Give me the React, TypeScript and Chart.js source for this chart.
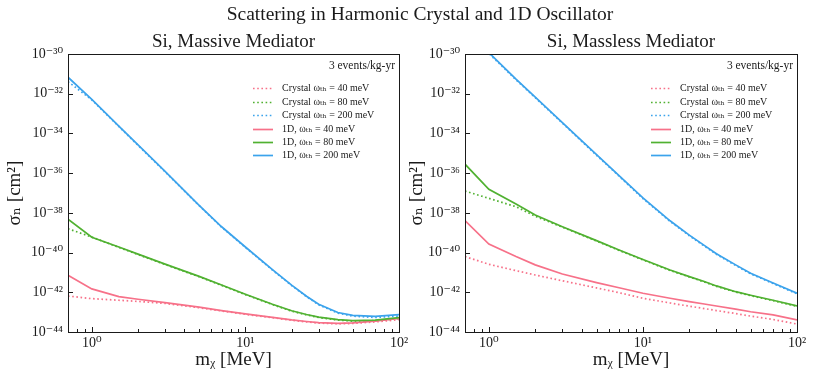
import React, { useEffect, useRef } from "react";
import { Chart, registerables } from "chart.js";
Chart.register(...registerables);

// Dark-matter masses (MeV) at which the curves are sampled
const masses = [0.7, 1, 1.5, 2, 3, 5, 7, 10, 15, 20, 25, 30, 40, 50, 70, 100];

// log10 of sigma_n [cm^2] — massive mediator (left)
const mvCrystal40 = [-42.19, -42.32, -42.40, -42.46, -42.56, -42.78, -42.94, -43.11, -43.28, -43.41, -43.49, -43.55, -43.59, -43.57, -43.49, -43.38];
const mvCrystal80 = [-38.80, -39.22, -39.74, -40.10, -40.60, -41.22, -41.65, -42.12, -42.62, -42.95, -43.14, -43.27, -43.40, -43.45, -43.43, -43.32];
const mvCrystal200 = [-31.39, -32.31, -33.65, -34.60, -35.93, -37.64, -38.72, -39.74, -40.88, -41.66, -42.22, -42.63, -43.05, -43.20, -43.27, -43.20];
const mv1D40 = [-41.14, -41.83, -42.22, -42.35, -42.52, -42.75, -42.92, -43.09, -43.26, -43.39, -43.47, -43.53, -43.57, -43.54, -43.45, -43.32];
const mv1D80 = [-38.32, -39.23, -39.72, -40.08, -40.58, -41.20, -41.63, -42.10, -42.60, -42.93, -43.12, -43.25, -43.38, -43.43, -43.40, -43.28];
const mv1D200 = [-31.17, -32.29, -33.63, -34.58, -35.91, -37.62, -38.70, -39.72, -40.86, -41.64, -42.20, -42.60, -43.02, -43.16, -43.21, -43.12];

// massless mediator (right)
const mlCrystal40 = [-40.20, -40.59, -40.91, -41.13, -41.42, -41.78, -42.02, -42.30, -42.54, -42.70, -42.82, -42.92, -43.07, -43.20, -43.37, -43.60];
const mlCrystal80 = [-36.90, -37.27, -37.69, -38.17, -38.72, -39.42, -39.89, -40.37, -40.90, -41.23, -41.48, -41.70, -41.99, -42.17, -42.42, -42.71];
const mlCrystal200 = [-28.85, -29.97, -31.30, -32.20, -33.48, -35.10, -36.15, -37.28, -38.43, -39.15, -39.67, -40.09, -40.65, -41.07, -41.56, -42.08];
const ml1D40 = [-38.39, -39.57, -40.20, -40.62, -41.08, -41.51, -41.77, -42.05, -42.30, -42.47, -42.59, -42.69, -42.85, -42.98, -43.14, -43.39];
const ml1D80 = [-35.55, -36.81, -37.55, -38.11, -38.70, -39.40, -39.87, -40.35, -40.88, -41.21, -41.46, -41.68, -41.97, -42.15, -42.40, -42.69];
const ml1D200 = [-28.80, -29.93, -31.27, -32.17, -33.45, -35.07, -36.12, -37.25, -38.40, -39.12, -39.64, -40.06, -40.62, -41.04, -41.53, -42.05];

const seriesLabels = [
  "Crystal ωₜₕ = 40 meV",
  "Crystal ωₜₕ = 80 meV",
  "Crystal ωₜₕ = 200 meV",
  "1D, ωₜₕ = 40 meV",
  "1D, ωₜₕ = 80 meV",
  "1D, ωₜₕ = 200 meV",
];
const colors = ["#f77189", "#50b131", "#3ba3ec"];

const yTickExps = [-44, -42, -40, -38, -36, -34, -32, -30];
const xMajorTicks = [1, 10, 100];
const xMinorTicks = [0.8, 0.9, 2, 3, 4, 5, 6, 7, 8, 9, 20, 30, 40, 50, 60, 70, 80, 90];

const figTitle = "Scattering in Harmonic Crystal and 1D Oscillator";
const panelTitles = ["Si, Massive Mediator", "Si, Massless Mediator"];
const noteText = "3 events/kg-yr";
const xTitle = "mᵪ [MeV]";
const yTitle = "σₙ [cm²]";

const FONT = "'Liberation Serif', 'DejaVu Serif', serif";
const INK = "#1a1a1a";

const SUP: Record<string, string> = {
  "-": "⁻", "0": "⁰", "1": "¹", "2": "²", "3": "³", "4": "⁴",
  "5": "⁵", "6": "⁶", "7": "⁷", "8": "⁸", "9": "⁹",
};
const pow10Label = (v: number) =>
  "10" + String(Math.round(Math.log10(v))).split("").map((c) => SUP[c] || c).join("");

const decorPlugin = {
  id: "decor",
  afterDatasetsDraw(chart: any) {
    const { ctx, chartArea: a, scales } = chart;
    const x = scales.x;
    const y = scales.y;
    ctx.save();
    ctx.strokeStyle = INK;
    ctx.lineWidth = 1;
    ctx.setLineDash([]);
    // frame
    ctx.strokeRect(Math.round(a.left) + 0.5, Math.round(a.top) + 0.5,
      Math.round(a.right - a.left), Math.round(a.bottom - a.top));
    // inward ticks
    ctx.beginPath();
    xMajorTicks.forEach((v) => {
      const px = Math.round(x.getPixelForValue(v)) + 0.5;
      ctx.moveTo(px, a.bottom);
      ctx.lineTo(px, a.bottom - 5);
    });
    xMinorTicks.forEach((v) => {
      const px = Math.round(x.getPixelForValue(v)) + 0.5;
      ctx.moveTo(px, a.bottom);
      ctx.lineTo(px, a.bottom - 3);
    });
    yTickExps.forEach((e) => {
      const py = Math.round(y.getPixelForValue(Math.pow(10, e))) + 0.5;
      ctx.moveTo(a.left, py);
      ctx.lineTo(a.left + 5, py);
    });
    ctx.stroke();

    // note + legend inside the axes
    ctx.fillStyle = INK;
    ctx.font = `11.5px ${FONT}`;
    ctx.textAlign = "right";
    ctx.textBaseline = "middle";
    ctx.fillText(noteText, a.right - 4, a.top + 12);

    ctx.font = `10px ${FONT}`;
    ctx.textAlign = "left";
    chart.data.datasets.forEach((ds: any, i: number) => {
      const yy = Math.round(a.top + 34.3 + i * 13.4) + 0.5;
      ctx.strokeStyle = ds.borderColor;
      ctx.lineWidth = 1.7;
      ctx.lineCap = "butt";
      ctx.setLineDash(ds.borderDash || []);
      ctx.beginPath();
      ctx.moveTo(a.right - 146, yy);
      ctx.lineTo(a.right - 126, yy);
      ctx.stroke();
      ctx.setLineDash([]);
      ctx.fillText(ds.label, a.right - 117, yy);
    });
    ctx.restore();
  },
};

function buildConfig(title: string, series: number[][], yWidth: number, padRight: number, yTitlePad: number) {
  const datasets = series.map((vals, i) => {
    const crystal = i < 3;
    return {
      label: seriesLabels[i],
      data: masses.map((m, j) => ({ x: m, y: Math.pow(10, vals[j]) })),
      borderColor: colors[i % 3],
      backgroundColor: colors[i % 3],
      borderWidth: 1.7,
      borderDash: crystal ? [1.6, 2.6] : [],
      borderCapStyle: "butt",
      pointRadius: 0,
      tension: 0,
      fill: false,
      order: 6 - i,
    };
  });
  return {
    type: "line",
    data: { datasets },
    plugins: [decorPlugin],
    options: {
      animation: false,
      responsive: false,
      maintainAspectRatio: false,
      layout: { padding: { left: 0, right: padRight, top: 0, bottom: 0 } },
      plugins: {
        legend: { display: false },
        tooltip: { enabled: false },
        title: {
          display: true,
          text: title,
          fullSize: false,
          color: INK,
          font: { family: FONT, size: 19, weight: "normal", lineHeight: 1.2 },
          padding: { top: 31, bottom: 0.2 },
        },
      },
      scales: {
        x: {
          type: "logarithmic",
          min: 0.7,
          max: 100,
          grid: { display: false, drawTicks: false },
          border: { display: false },
          ticks: {
            autoSkip: false,
            maxRotation: 0,
            minRotation: 0,
            padding: 3,
            color: INK,
            font: { family: FONT, size: 14 },
            callback: (v: number) => pow10Label(v),
          },
          afterBuildTicks: (s: any) => {
            s.ticks = xMajorTicks.map((v) => ({ value: v }));
          },
          afterFit: (s: any) => {
            s.height = 48;
            s.paddingLeft = 0;
            s.paddingRight = 0;
          },
          title: {
            display: true,
            text: xTitle,
            color: INK,
            font: { family: FONT, size: 19, lineHeight: 1.2 },
            padding: { top: 0, bottom: 9 },
          },
        },
        y: {
          type: "logarithmic",
          min: 1e-44,
          max: 1e-30,
          grid: { display: false, drawTicks: false },
          border: { display: false },
          ticks: {
            autoSkip: false,
            padding: 5,
            color: INK,
            font: { family: FONT, size: 14 },
            callback: (v: number) => pow10Label(v),
          },
          afterBuildTicks: (s: any) => {
            s.ticks = yTickExps.map((e) => ({ value: Math.pow(10, e) }));
          },
          afterFit: (s: any) => {
            s.width = yWidth;
            s.paddingTop = 0;
            s.paddingBottom = 0;
          },
          title: {
            display: true,
            text: yTitle,
            color: INK,
            font: { family: FONT, size: 19, lineHeight: 1.2 },
            padding: { top: yTitlePad, bottom: yTitlePad },
          },
        },
      },
    },
  };
}

function Panel(props: { left: number; width: number; title: string; series: number[][]; yWidth: number; padRight: number; yTitlePad: number }) {
  const ref = useRef<HTMLCanvasElement | null>(null);
  useEffect(() => {
    if (!ref.current) return;
    const chart = new Chart(ref.current, buildConfig(props.title, props.series, props.yWidth, props.padRight, props.yTitlePad) as any);
    return () => chart.destroy();
  }, []);
  return (
    <canvas
      ref={ref}
      width={props.width}
      height={380}
      style={{ position: "absolute", left: props.left, top: 0, width: props.width, height: 380 }}
    />
  );
}

export default function App() {
  return (
    <div style={{ position: "absolute", left: 0, top: 0, width: 814, height: 380, background: "#fff", overflow: "hidden" }}>
      <Panel
        left={0}
        width={412}
        title={panelTitles[0]}
        series={[mvCrystal40, mvCrystal80, mvCrystal200, mv1D40, mv1D80, mv1D200]}
        yWidth={68}
        padRight={13}
        yTitlePad={4}
      />
      <Panel
        left={404}
        width={410}
        title={panelTitles[1]}
        series={[mlCrystal40, mlCrystal80, mlCrystal200, ml1D40, ml1D80, ml1D200]}
        yWidth={61}
        padRight={17}
        yTitlePad={2}
      />
      <div
        style={{
          position: "absolute",
          left: 420,
          top: 2,
          transform: "translateX(-50%)",
          whiteSpace: "nowrap",
          fontFamily: FONT,
          fontSize: 19.5,
          lineHeight: "24px",
          color: INK,
        }}
      >
        {figTitle}
      </div>
    </div>
  );
}
